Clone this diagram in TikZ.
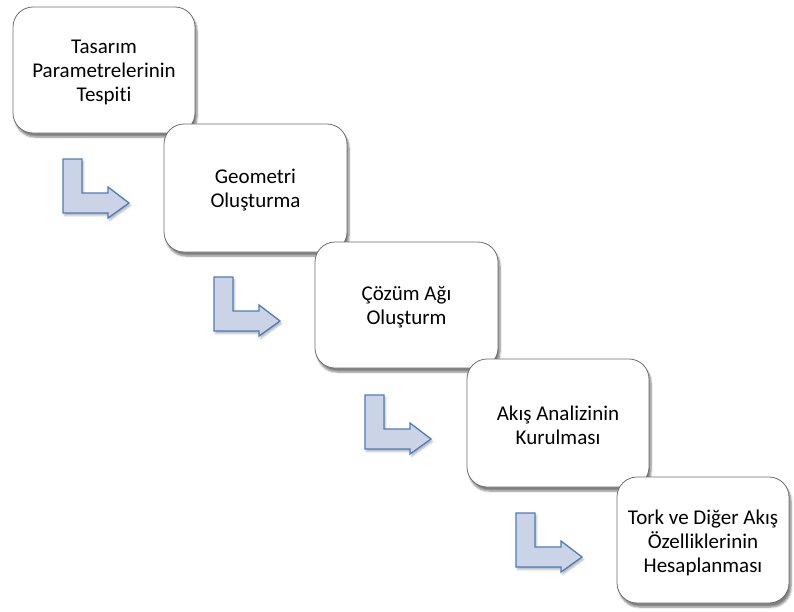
\documentclass[tikz,border=0pt]{standalone}
\usepackage{fontspec}
\setmainfont{Carlito}[Ligatures=NoCommon]
\usetikzlibrary{shadows,shadows.blur}
\definecolor{boxline}{HTML}{6E6E6E}
\definecolor{arrowline}{HTML}{4F7CB9}
\definecolor{arrowfill}{HTML}{CBD4E6}
\begin{document}
\begin{tikzpicture}[x=1pt,y=-1pt,
  stepbox/.style={draw=boxline,line width=0.8pt,fill=white,rounded corners=20pt,
    minimum width=182pt,minimum height=126pt,inner sep=0pt,
    blur shadow={shadow xshift=2pt,shadow yshift=-4pt,shadow blur steps=6,shadow opacity=50}},
  steptext/.style={align=center,inner sep=0pt,font=\fontsize{21}{24}\selectfont},
  bentarrow/.style={draw=arrowline,line width=1.3pt,fill=arrowfill,line join=miter,
    blur shadow={shadow xshift=1.5pt,shadow yshift=-2.5pt,shadow blur steps=4,shadow opacity=30}},
  pics/lstep/.style={code={
    \draw[bentarrow] (0,0) -- (19,0) -- (19,34) -- (45,34) -- (45,28) -- (66,44)
      -- (45,59) -- (45,54) -- (0,54) -- cycle;}}]
\useasboundingbox (0,0) rectangle (794,611);

% process steps, each drawn over the one before it, with its caption
\node[stepbox] (s1) at (104,70) {};
\node[steptext] (t1) at ([yshift=-2.5pt]s1.center) {Tasarım\\Parametrelerinin\\Tespiti};
\node[stepbox,minimum width=183pt,minimum height=128pt] (s2) at (255.5,188) {};
\node[steptext] (t2) at ([yshift=-2.5pt]s2.center) {Geometri\\Oluşturma};
\node[stepbox,minimum width=183pt] (s3) at (406.5,305) {};
\node[steptext] (t3) at ([yshift=-2.5pt]s3.center) {Çözüm Ağı\\Oluşturm};
\node[stepbox,minimum height=128pt] (s4) at (558,423) {};
\node[steptext] (t4) at ([yshift=-2.5pt]s4.center) {Akış Analizinin\\Kurulması};
\node[stepbox,minimum width=172pt] (s5) at (703,540) {};
\node[steptext] (t5) at ([yshift=-2.5pt]s5.center) {Tork ve Diğer Akış\\Özelliklerinin\\Hesaplanması};

% bent arrows between the steps
\coordinate (a1) at (63,159);
\coordinate (a2) at (214,277);
\coordinate (a3) at (365,395);
\coordinate (a4) at (516,513);
\foreach \a in {a1,a2,a3,a4} \pic at (\a) {lstep};
\end{tikzpicture}
\end{document}
